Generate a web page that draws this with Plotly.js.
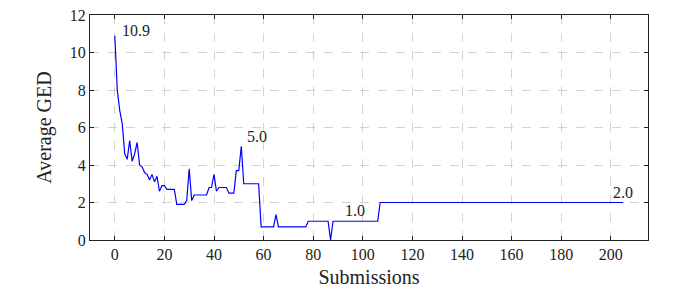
<!DOCTYPE html>
<html>
<head>
<meta charset="utf-8">
<script src="https://cdn.plot.ly/plotly-3.0.1.min.js"></script>
<style>html,body{margin:0;padding:0;background:#fff;}#chart{width:682px;height:293px;}</style>
</head>
<body>
<div id="chart"></div>
<script>
const submissions = [0,1,2,3,4,5,6,7,8,9,10,11,12,13,14,15,16,17,18,19,20,21,24,25,28,29,30,31,32,37,38,39,40,41,42,45,46,48,49,50,51,52,58,59,64,65,66,77,78,86,87,88,106,107,205];
const avgGED = [10.9,8.0,6.9,6.2,4.6,4.3,5.3,4.2,4.6,5.2,4.0,3.9,3.6,3.5,3.2,3.5,3.1,3.4,2.6,2.9,2.9,2.7,2.7,1.9,1.9,2.1,3.8,2.1,2.4,2.4,2.8,2.8,3.5,2.6,2.8,2.8,2.5,2.5,3.7,3.7,5.0,3.0,3.0,0.7,0.7,1.35,0.7,0.7,1.0,1.0,0,1.0,1.0,2.0,2.0];
const labelTexts = ["10.9","5.0","1.0","2.0"];
const labelX = [8.5,57.5,96.9,204.9];
const labelY = [11.15,5.53,1.55,2.56];
const xTicks = [0,20,40,60,80,100,120,140,160,180,200];
const yTicks = [0,2,4,6,8,10,12];

const font = "Liberation Serif";
const axisCommon = {
  showline: true, linecolor: '#222', linewidth: 1, mirror: 'ticks',
  ticks: 'inside', ticklen: 4, tickcolor: '#222', tickwidth: 1,
  showgrid: true, gridcolor: '#c8c8c8', griddash: 'dash', gridwidth: 0.8,
  zeroline: false
};
const layout = {
  width: 682, height: 293,
  margin: {l: 90, r: 34, t: 15, b: 53},
  paper_bgcolor: '#fff', plot_bgcolor: '#fff',
  showlegend: false,
  font: {family: font, size: 16, color: '#222'},
  xaxis: Object.assign({}, axisCommon, {
    range: [-10, 215], tickmode: 'array', tickvals: xTicks, ticklabelstandoff: 0,
    tickfont: {family: font, size: 16, color: '#222'},
    title: {text: 'Submissions', font: {family: font, size: 20, color: '#222'}, standoff: 7}
  }),
  yaxis: Object.assign({}, axisCommon, {
    range: [0, 12], tickmode: 'array', tickvals: yTicks,
    tickfont: {family: font, size: 16, color: '#222'},
    title: {text: 'Average GED', font: {family: font, size: 20, color: '#222'}, standoff: 12}
  }),
  annotations: labelTexts.map((t, i) => ({
    x: labelX[i], y: labelY[i], xref: 'x', yref: 'y', text: t, showarrow: false,
    font: {family: font, size: 16, color: '#222'}, xanchor: 'center', yanchor: 'middle'
  }))
};
const trace = {
  x: submissions, y: avgGED, type: 'scatter', mode: 'lines',
  line: {color: '#0000ff', width: 1.2}
};
Plotly.newPlot('chart', [trace], layout, {staticPlot: true, displayModeBar: false});
</script>
</body>
</html>
